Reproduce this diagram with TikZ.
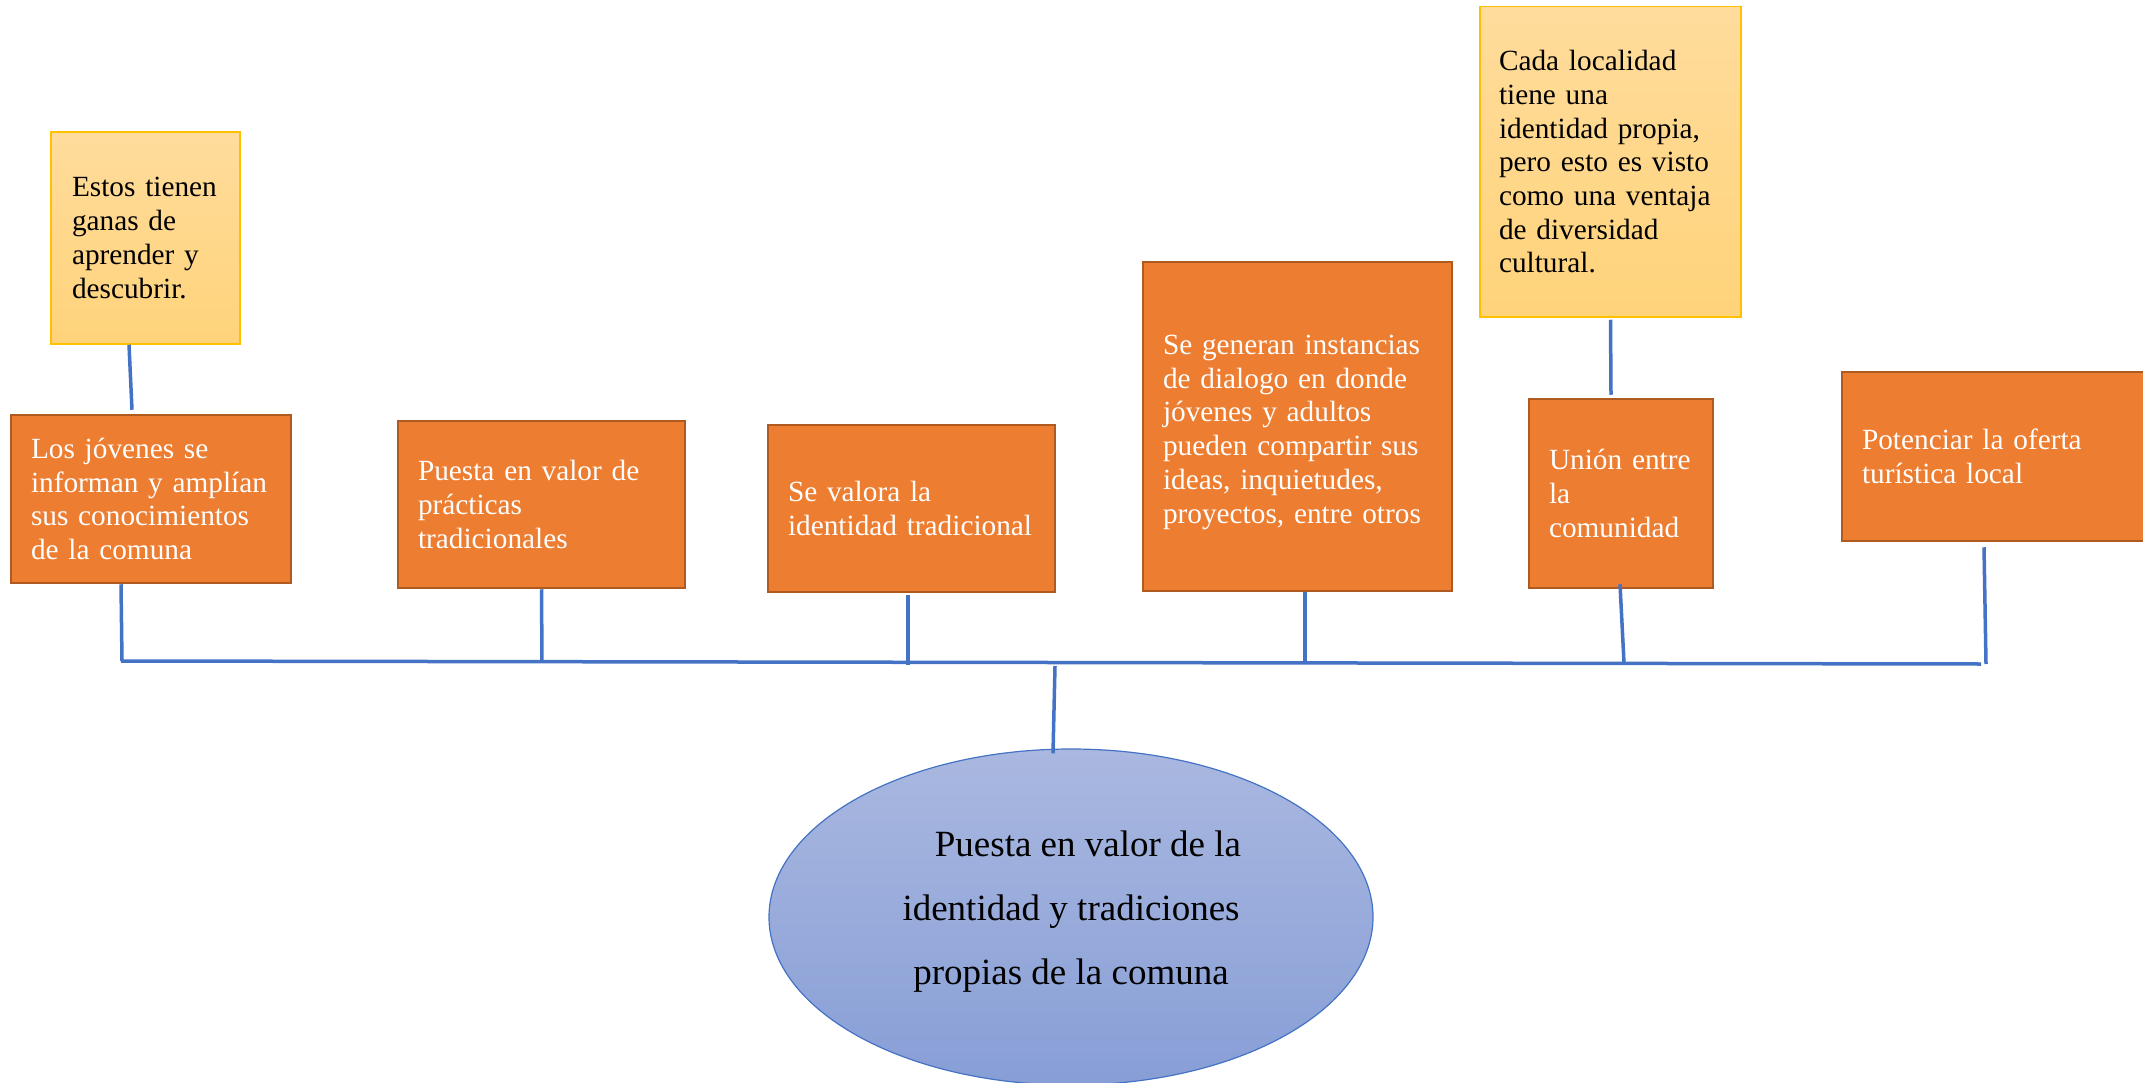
\documentclass[tikz,border=0pt]{standalone}
\usepackage{fontspec}
\setmainfont{Liberation Serif}
\usetikzlibrary{shapes.geometric}
\definecolor{orfill}{HTML}{ED7D31}
\definecolor{ordraw}{HTML}{AE5A21}
\definecolor{yeltop}{HTML}{FFDC9C}
\definecolor{yelbot}{HTML}{FFD37A}
\definecolor{yeldraw}{HTML}{FFC000}
\definecolor{bluel}{HTML}{4472C4}
\definecolor{elltop}{HTML}{AAB8E0}
\definecolor{ellbot}{HTML}{879ED6}
\begin{document}
\begin{tikzpicture}[x=1pt,y=-1pt,
  obox/.style={rectangle, draw=ordraw, line width=2.5pt, fill=orfill, text=white,
    font=\fontsize{29.3}{33.7}\selectfont, align=left, inner xsep=20pt, inner ysep=0pt},
  ybox/.style={rectangle, draw=yeldraw, line width=1.5pt, top color=yeltop, bottom color=yelbot,
    text=black, font=\fontsize{29.3}{33.7}\selectfont, align=left, inner xsep=20pt, inner ysep=0pt},
  conn/.style={draw=bluel, line width=3.5pt},
  mainell/.style={ellipse, draw=bluel, line width=1.2pt, top color=elltop, bottom color=ellbot,
    minimum width=604pt, minimum height=336pt, inner sep=0pt}
]
\useasboundingbox (0,0) rectangle (2143,1083);
\clip (0,0) rectangle (2143,1083);

% yellow boxes
\node[ybox, inner xsep=21pt, text width=147pt, minimum height=212pt] (y1) at (145.5,238)
  {Estos tienen\\ganas de\\aprender y\\descubrir.};
\node[ybox, inner xsep=19pt, text width=223pt, minimum height=310.5pt] (y2) at (1610.5,161.75)
  {Cada localidad\\tiene una\\identidad propia,\\pero esto es visto\\como una ventaja\\de diversidad\\cultural.};

% orange boxes
\node[obox, text width=240pt, minimum height=168pt] (b1) at (151,499)
  {Los jóvenes se\\informan y amplían\\sus conocimientos\\de la comuna};
\node[obox, text width=247pt, minimum height=167pt] (b2) at (541.5,504.5)
  {Puesta en valor de\\prácticas\\tradicionales};
\node[obox, text width=247pt, minimum height=167pt] (b3) at (911.5,508.5)
  {Se valora la\\identidad tradicional};
\node[obox, text width=269pt, minimum height=329pt] (b4) at (1297.5,426.5)
  {\rule{0pt}{31pt}Se generan instancias\\de dialogo en donde\\jóvenes y adultos\\pueden compartir sus\\ideas, inquietudes,\\proyectos, entre otros};
\node[obox, text width=144pt, minimum height=189pt] (b5) at (1621,493.5)
  {Unión entre\\la\\comunidad};
\node[obox, text width=278pt, minimum height=169pt] (b6) at (2001,456.5)
  {Potenciar la oferta\\turística local};

% main ellipse
\node[mainell, label={[font=\fontsize{37}{64}\selectfont, align=center, yshift=5pt, text=black]center:{\hspace*{34pt}Puesta en valor de la\\identidad y tradiciones\\propias de la comuna}}] (main) at (1071,917) {};

% bus line and junctions
\coordinate (busL) at (121,661);
\coordinate (busR) at (1981,664);
\coordinate (j1) at (122,661);
\coordinate (j2) at (542,662);
\coordinate (j3) at (908,665);
\coordinate (j4) at (1305,662);
\coordinate (j5) at (1624,663);
\coordinate (j6) at (1986,664);
\coordinate (jm) at (1055,666);
\draw[conn] (busL) -- (busR);

% connectors
\draw[conn] ([xshift=-16.5pt]y1.south) -- ([xshift=-19pt,yshift=4pt]b1.north);
\draw[conn] ([xshift=-30pt]b1.south) -- (j1);
\draw[conn] (b2.south) -- (j2);
\draw[conn] ([xshift=-3.5pt,yshift=-2pt]b3.south) -- (j3);
\draw[conn] ([xshift=7.5pt]b4.south) -- (j4);
\draw[conn] ([yshift=-2pt]y2.south) -- ([xshift=-10pt,yshift=3pt]b5.north);
\draw[conn] ([xshift=-1pt,yshift=5pt]b5.south) -- (j5);
\draw[conn] ([xshift=-17pt,yshift=-5pt]b6.south) -- (j6);
\draw[conn] (jm) -- ([xshift=-18pt,yshift=-5pt]main.north);
\end{tikzpicture}
\end{document}
